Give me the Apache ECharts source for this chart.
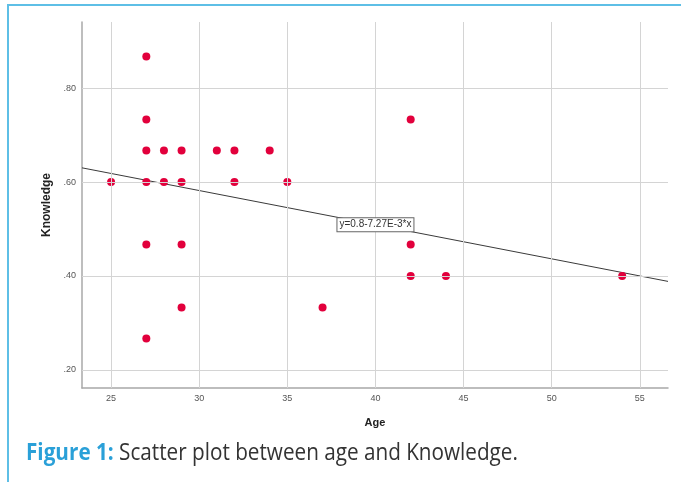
<!DOCTYPE html>
<html>
<head>
<meta charset="utf-8">
<script src="https://cdn.jsdelivr.net/npm/echarts@6/dist/echarts.min.js"></script>
<style>
html,body{margin:0;padding:0;background:#fff;}
#c{width:681px;height:482px;}
</style>
</head>
<body>
<div id="c"></div>
<script>
// Data
var ages = [25, 27, 27, 27, 27, 27, 27, 28, 28, 29, 29, 29, 29, 31, 32, 32, 34, 35, 37, 42, 42, 42, 44, 54];
var knowledge = [0.600, 0.867, 0.733, 0.667, 0.600, 0.467, 0.267, 0.667, 0.600, 0.667, 0.600, 0.467, 0.333, 0.667, 0.667, 0.600, 0.667, 0.600, 0.333, 0.733, 0.467, 0.400, 0.400, 0.400];
var xTicks = [25, 30, 35, 40, 45, 50, 55];
var yTicks = [0.2, 0.4, 0.6, 0.8];
var fitIntercept = 0.8;
var fitSlope = -0.00727;
var fitLabel = 'y=0.8-7.27E-3*x';
var fitLabelAt = 40;
var xTitle = 'Age';
var yTitle = 'Knowledge';
var captionBold = 'Figure 1:';
var captionText = ' Scatter plot between age and Knowledge.';

var xMin = 23.35, xMax = 56.6, yMin = 0.1616, yMax = 0.9407;

var points = ages.map(function (a, i) { return [a, knowledge[i]]; });
function fit(x) { return fitIntercept + fitSlope * x; }

var chart = echarts.init(document.getElementById('c'), null, {renderer: 'canvas'});
var gridColor = '#d4d4d4';
chart.setOption({
  animation: false,
  backgroundColor: '#fff',
  grid: {left: 82, right: 13, top: 22, bottom: 94, containLabel: false},
  xAxis: {
    type: 'value', min: xMin, max: xMax,
    name: xTitle, nameLocation: 'middle', nameGap: 29,
    nameTextStyle: {fontFamily: 'Liberation Sans', fontWeight: 'bold', fontSize: 11, color: '#222'},
    axisLine: {show: true, onZero: false, lineStyle: {color: '#a8a8a8', width: 1.5}},
    axisTick: {show: false},
    splitLine: {show: false},
    axisLabel: {customValues: xTicks, margin: 6, fontSize: 9, color: '#555', fontFamily: 'Liberation Sans'}
  },
  yAxis: {
    type: 'value', min: yMin, max: yMax,
    name: yTitle, nameLocation: 'middle', nameGap: 28, nameRotate: 90,
    nameTextStyle: {fontFamily: 'Liberation Sans', fontWeight: 'bold', fontSize: 12, color: '#222'},
    axisLine: {show: true, onZero: false, lineStyle: {color: '#a8a8a8', width: 1.5}},
    axisTick: {show: false},
    splitLine: {show: false},
    axisLabel: {customValues: yTicks, margin: 6, fontSize: 9, color: '#555', fontFamily: 'Liberation Sans',
      formatter: function (v) { return v.toFixed(2).replace(/^0/, ''); }}
  },
  series: [
    {
      type: 'scatter', data: [], z: 0, silent: true,
      markLine: {
        silent: true, symbol: 'none', label: {show: false}, animation: false,
        lineStyle: {color: gridColor, width: 1, type: 'solid'},
        data: xTicks.map(function (v) { return {xAxis: v}; }).concat(
              yTicks.map(function (v) { return {yAxis: v}; }))
      }
    },
    {
      type: 'line', z: 2, silent: true, showSymbol: false, symbol: 'none',
      data: [[xMin, fit(xMin)], [xMax, fit(xMax)]],
      lineStyle: {color: '#3a3a3a', width: 1},
      markPoint: {
        symbol: 'rect', symbolSize: 0, silent: true,
        data: [{coord: [fitLabelAt, fit(fitLabelAt)]}],
        label: {show: true, position: 'inside', formatter: fitLabel, fontFamily: 'Liberation Sans',
          fontSize: 10, color: '#333', backgroundColor: '#fff', borderColor: '#666', borderWidth: 1,
          padding: [2, 2, 1, 2]}
      }
    },
    {
      type: 'scatter', z: 3, data: points, symbolSize: 8,
      itemStyle: {color: '#e2003c', opacity: 1}
    }
  ],
  graphic: [
    {type: 'line', shape: {x1: 8, y1: 5, x2: 681, y2: 5}, style: {stroke: '#5ebfe6', lineWidth: 2}},
    {type: 'line', shape: {x1: 8, y1: 4, x2: 8, y2: 482}, style: {stroke: '#5ebfe6', lineWidth: 2}},
    {type: 'text', x: 26, y: 442, scaleX: 0.9, scaleY: 1,
      style: {
        text: '{b|' + captionBold + '}{n|' + captionText + '}',
        verticalAlign: 'top', align: 'left',
        rich: {
          b: {fontFamily: 'Open Sans', fontWeight: 'bold', fontSize: 23, fill: '#2aa0d8'},
          n: {fontFamily: 'Open Sans', fontSize: 23, fill: '#333'}
        }
      }}
  ]
});
</script>
</body>
</html>
